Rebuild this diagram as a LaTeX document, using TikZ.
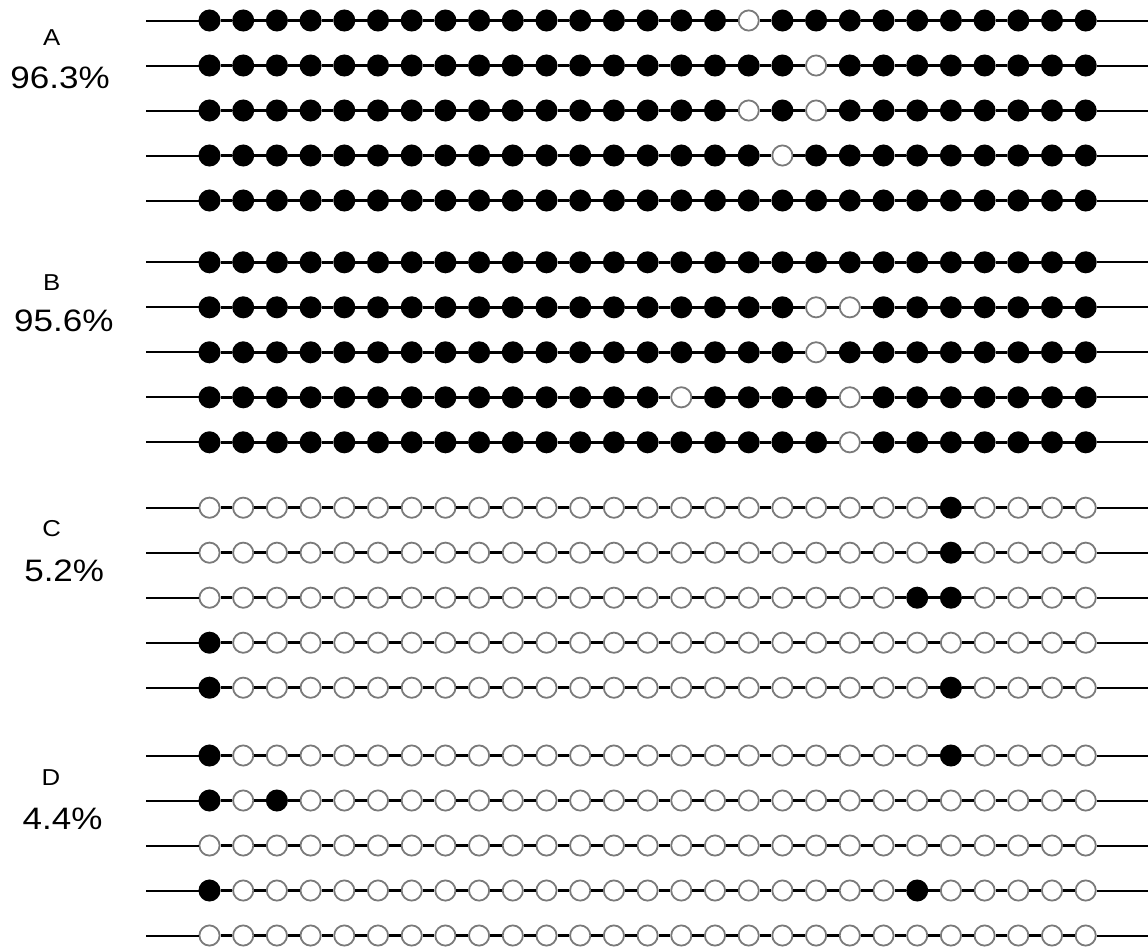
\documentclass[tikz,border=0pt]{standalone}
\usepackage{fontspec}
\setmainfont{Liberation Sans}
\usepackage{tikz}
\usetikzlibrary{calc}

\begin{document}
\begin{tikzpicture}[x = 1pt, y = -1pt]
  \tikzset{
    cpg/.style = {circle, inner sep = 0pt, minimum size = 20.2pt, line width = 1.8pt},
    meth/.style = {cpg, fill = black, draw = black},
    unmeth/.style = {cpg, fill = white, draw = black!52},
    strand/.style = {line width = 2pt},
    link/.style = {line width = 2.7pt},
    grp/.style = {anchor = base, font = \fontsize{23}{27}\selectfont, xscale = 1.12},
    pct/.style = {anchor = base, font = \fontsize{31}{36}\selectfont, xscale = 1.13}
  }
  \useasboundingbox (0,0) rectangle (1148,948);

  % name / y / default (1 = filled) / flipped sites (-1 = none)
  \foreach \n/\y/\b/\ea/\eb in {
      A1/20.5/1/16/-1, A2/65.5/1/18/-1, A3/110.5/1/16/18, A4/155.5/1/17/-1, A5/200.5/1/-1/-1,
      B1/262.3/1/-1/-1, B2/307.3/1/18/19, B3/352.3/1/18/-1, B4/397.3/1/14/19, B5/442.3/1/19/-1,
      C1/507.7/0/22/-1, C2/552.7/0/22/-1, C3/597.7/0/21/22, C4/642.7/0/0/-1, C5/687.7/0/0/22,
      D1/755.5/0/0/22, D2/800.5/0/0/2, D3/845.5/0/-1/-1, D4/890.5/0/0/21, D5/935.5/0/-1/-1} {
    \coordinate (\n-l) at (146,\y);
    \coordinate (\n-r) at (1148,\y);
    \foreach \i in {0,...,26} {
      \pgfmathtruncatemacro\hit{or(\i==\ea,\i==\eb)}
      \pgfmathtruncatemacro\full{mod(\b+\hit,2)}
      \ifnum\full=1 \def\sty{meth}\else\def\sty{unmeth}\fi
      \node[\sty] (\n-\i) at (209.5+33.7*\i,\y) {};
    }
    \foreach \i in {1,...,26} {
      \pgfmathtruncatemacro\prev{\i-1}
      \draw[link] (\n-\prev) -- (\n-\i);
    }
    \draw[strand] (\n-l) -- (\n-0);
    \draw[strand] (\n-26) -- (\n-r);
  }

  \node[grp] (labA) at (51.7,45) {A};
  \node[pct] (pctA) at (60,88.3) {96.3\%};
  \node[grp] (labB) at (51.7,290) {B};
  \node[pct] (pctB) at (63.8,331.7) {95.6\%};
  \node[grp] (labC) at (51.7,536.5) {C};
  \node[pct] (pctC) at (64.2,581.7) {5.2\%};
  \node[grp] (labD) at (51,785) {D};
  \node[pct] (pctD) at (62.5,829.3) {4.4\%};
\end{tikzpicture}
\end{document}
